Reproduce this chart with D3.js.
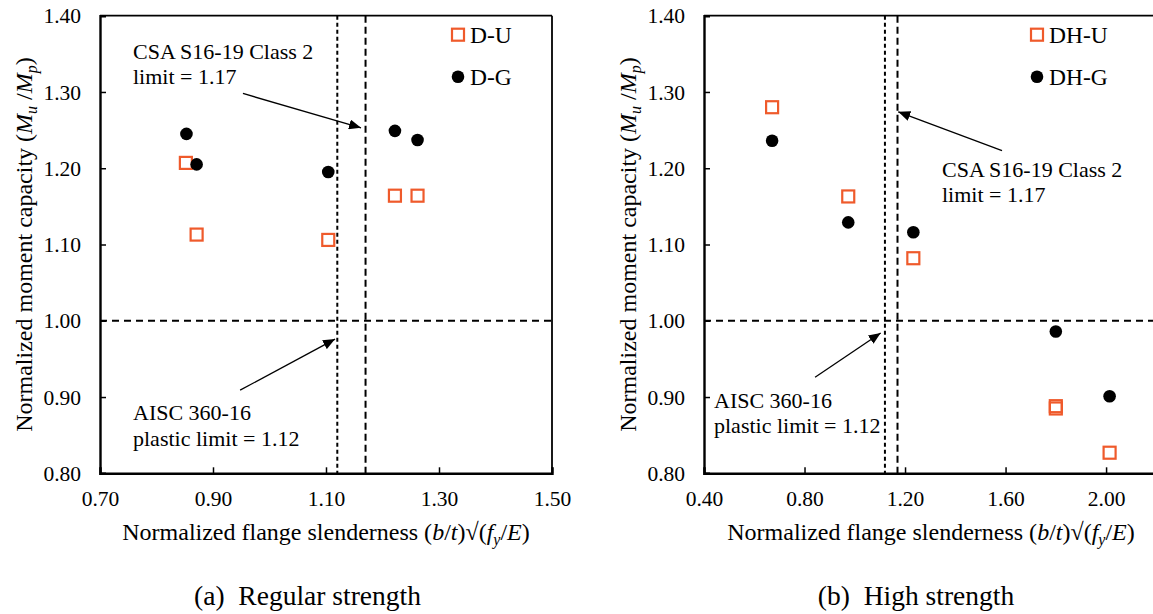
<!DOCTYPE html>
<html>
<head>
<meta charset="utf-8">
<script src="https://cdn.jsdelivr.net/npm/d3@7"></script>
<style>
  body { margin: 0; background: #fff; }
</style>
</head>
<body>
<div id="chart"></div>
<script>
// values
const duX = [0.852, 0.871, 1.104, 1.222, 1.262];
const duY = [1.207, 1.113, 1.106, 1.164, 1.164];
const dgX = [0.853, 0.871, 1.104, 1.222, 1.262];
const dgY = [1.245, 1.205, 1.195, 1.249, 1.237];

const dhuX = [0.671, 0.974, 1.233, 1.800, 1.800, 2.014];
const dhuY = [1.280, 1.163, 1.082, 0.888, 0.885, 0.827];
const dhgX = [0.671, 0.974, 1.233, 1.800, 2.014];
const dhgY = [1.236, 1.129, 1.116, 0.986, 0.901];

const xTicksA = [0.70, 0.90, 1.10, 1.30, 1.50];
const xTicksB = [0.40, 0.80, 1.20, 1.60, 2.00];
const yTicks = [0.80, 0.90, 1.00, 1.10, 1.20, 1.30, 1.40];

const aiscLimit = 1.12, csaLimit = 1.17, unity = 1.00;

const orange = "#ef5a2b";
const FONT = "Liberation Serif";

const svg = d3.select("#chart").append("svg")
    .attr("width", 1153).attr("height", 614)
    .style("font-family", FONT);

const defs = svg.append("defs");
defs.append("marker")
    .attr("id", "arrow")
    .attr("viewBox", "0 0 12 10")
    .attr("refX", 12).attr("refY", 5)
    .attr("markerWidth", 12).attr("markerHeight", 10)
    .attr("markerUnits", "userSpaceOnUse")
    .attr("orient", "auto")
  .append("path")
    .attr("d", "M0,0 L12,5 L0,10 Z")
    .attr("fill", "#000");

function panel(cfg) {
  const x = d3.scaleLinear().domain(cfg.xDomain).range(cfg.xRange);
  const y = d3.scaleLinear().domain([0.8, 1.4]).range([473.3, 15.7]);
  const g = svg.append("g").style("font-family", FONT);
  const [x0, x1] = cfg.xRange;

  // frame top/right
  g.append("line").attr("x1", x0).attr("x2", x1).attr("y1", y(1.4)).attr("y2", y(1.4))
    .attr("stroke", "#000").attr("stroke-width", 1.8);
  g.append("line").attr("x1", x1).attr("x2", x1).attr("y1", y(1.4)).attr("y2", y(0.8))
    .attr("stroke", "#000").attr("stroke-width", 1.8);

  // axes with inside ticks
  const xAxis = g.append("g").attr("transform", `translate(0,${y(0.8)})`)
    .call(d3.axisBottom(x).tickValues(cfg.xTicks).tickSize(-6).tickPadding(0)
      .tickFormat(d3.format(".2f")));
  const yAxis = g.append("g").attr("transform", `translate(${x0},0)`)
    .call(d3.axisLeft(y).tickValues(yTicks).tickSize(-6).tickPadding(19)
      .tickFormat(d3.format(".2f")));
  [xAxis, yAxis].forEach(a => {
    a.style("font-family", FONT).style("font-size", "21.5px");
    a.select(".domain").attr("stroke", "#000").attr("stroke-width", 2.4);
    a.selectAll(".tick line").attr("stroke", "#000").attr("stroke-width", 1.5);
    a.selectAll("text").style("font-family", FONT).style("font-size", "21.5px").attr("fill", "#000");
  });
  xAxis.selectAll("text").attr("dy", null).attr("y", 33);
  yAxis.selectAll("text").attr("dy", "0.33em");

  // limit lines
  g.append("line").attr("x1", x(aiscLimit)).attr("x2", x(aiscLimit))
    .attr("y1", y(1.4)).attr("y2", y(0.8))
    .attr("stroke", "#000").attr("stroke-width", 2).attr("stroke-dasharray", "4,3");
  g.append("line").attr("x1", x(csaLimit)).attr("x2", x(csaLimit))
    .attr("y1", y(1.4)).attr("y2", y(0.8))
    .attr("stroke", "#000").attr("stroke-width", 2).attr("stroke-dasharray", "7,4");
  g.append("line").attr("x1", x0).attr("x2", x1)
    .attr("y1", y(unity)).attr("y2", y(unity))
    .attr("stroke", "#000").attr("stroke-width", 2).attr("stroke-dasharray", "7,5");

  // points
  g.selectAll(".sq").data(cfg.uX.map((v, i) => [v, cfg.uY[i]])).enter()
    .append("rect")
      .attr("x", d => x(d[0]) - 6).attr("y", d => y(d[1]) - 6)
      .attr("width", 12).attr("height", 12)
      .attr("fill", "none").attr("stroke", orange).attr("stroke-width", 2.2);
  g.selectAll(".dot").data(cfg.gX.map((v, i) => [v, cfg.gY[i]])).enter()
    .append("circle")
      .attr("cx", d => x(d[0])).attr("cy", d => y(d[1])).attr("r", 6.3)
      .attr("fill", "#000");

  // legend
  const lg = cfg.legend;
  g.append("rect").attr("x", lg.x - 6).attr("y", 34.7 - 6).attr("width", 12).attr("height", 12)
    .attr("fill", "none").attr("stroke", orange).attr("stroke-width", 2.2);
  g.append("circle").attr("cx", lg.x).attr("cy", 76.7).attr("r", 6.3).attr("fill", "#000");
  g.append("text").attr("x", lg.x + 12).attr("y", 43).style("font-size", "23.5px").text(lg.names[0]);
  g.append("text").attr("x", lg.x + 12).attr("y", 85).style("font-size", "23.5px").text(lg.names[1]);

  // annotations
  cfg.notes.forEach(n => {
    const t = g.append("text").style("font-size", "22px");
    n.lines.forEach((s, i) => t.append("tspan").attr("x", n.x).attr("y", n.y + i * 25.5).text(s));
    g.append("line")
      .attr("x1", x(n.from[0])).attr("y1", y(n.from[1]))
      .attr("x2", x(n.to[0])).attr("y2", y(n.to[1]))
      .attr("stroke", "#000").attr("stroke-width", 1.3)
      .attr("marker-end", "url(#arrow)");
  });

  // axis titles
  const yt = g.append("text")
    .attr("transform", `translate(${x0 - 68},${(y(0.8) + y(1.4)) / 2}) rotate(-90)`)
    .attr("text-anchor", "middle").style("font-size", "24px");
  yt.append("tspan").text("Normalized moment capacity (");
  yt.append("tspan").attr("font-style", "italic").text("M");
  yt.append("tspan").attr("font-style", "italic").style("font-size", "16px").attr("dy", 5).text("u");
  yt.append("tspan").attr("dy", -5).text(" /");
  yt.append("tspan").attr("font-style", "italic").text("M");
  yt.append("tspan").attr("font-style", "italic").style("font-size", "16px").attr("dy", 5).text("p");
  yt.append("tspan").attr("dy", -5).text(")");

  const xt = g.append("text").attr("x", cfg.xTitleX).attr("y", 540)
    .attr("text-anchor", "middle").style("font-size", "24px");
  xt.append("tspan").text("Normalized flange slenderness (");
  xt.append("tspan").attr("font-style", "italic").text("b");
  xt.append("tspan").text("/");
  xt.append("tspan").attr("font-style", "italic").text("t");
  xt.append("tspan").text(")\u221A(");
  xt.append("tspan").attr("font-style", "italic").text("f");
  xt.append("tspan").attr("font-style", "italic").style("font-size", "16px").attr("dy", 5).text("y");
  xt.append("tspan").attr("dy", -5).text("/");
  xt.append("tspan").attr("font-style", "italic").text("E");
  xt.append("tspan").text(")");

  g.append("text").attr("x", cfg.captionX).attr("y", 605)
    .attr("text-anchor", "middle").style("font-size", "27.5px")
    .style("white-space", "pre").text(cfg.caption);
}

panel({
  xDomain: [0.7, 1.5], xRange: [100, 552], xTicks: xTicksA,
  uX: duX, uY: duY, gX: dgX, gY: dgY,
  legend: { x: 458, names: ["D-U", "D-G"] },
  notes: [
    { x: 133, y: 58.5, lines: ["CSA S16-19 Class 2", "limit = 1.17"], from: [0.953, 1.298], to: [1.162, 1.253] },
    { x: 133, y: 420, lines: ["AISC 360-16", "plastic limit = 1.12"], from: [0.948, 0.909], to: [1.116, 0.976] }
  ],
  xTitleX: 326, captionX: 307.5, caption: "(a)  Regular strength"
});

panel({
  xDomain: [0.4, 2.4], xRange: [704, 1206.6], xTicks: xTicksB,
  uX: dhuX, uY: dhuY, gX: dhgX, gY: dhgY,
  legend: { x: 1037, names: ["DH-U", "DH-G"] },
  notes: [
    { x: 942, y: 176.5, lines: ["CSA S16-19 Class 2", "limit = 1.17"], from: [1.586, 1.223], to: [1.173, 1.274] },
    { x: 714, y: 407.5, lines: ["AISC 360-16", "plastic limit = 1.12"], from: [0.842, 0.926], to: [1.103, 0.984] }
  ],
  xTitleX: 931, captionX: 916, caption: "(b)  High strength"
});
</script>
</body>
</html>
